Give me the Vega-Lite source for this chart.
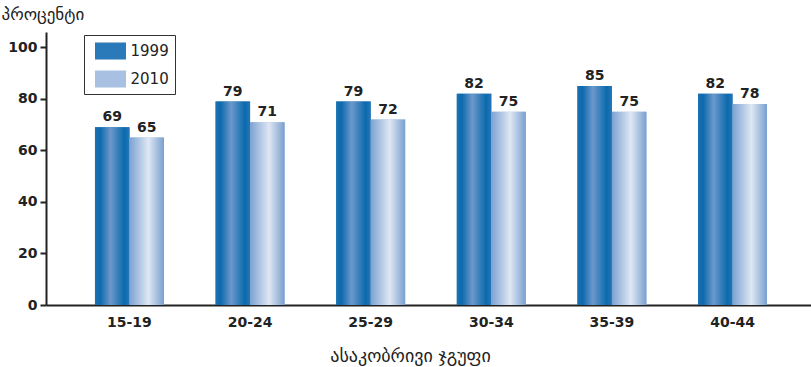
{
  "$schema": "https://vega.github.io/schema/vega-lite/v6.json",
  "width": 765,
  "height": 273,
  "autosize": {"type": "none"},
  "padding": {"left": 46, "top": 32, "right": 0, "bottom": 62},
  "background": "white",
  "config": {
    "view": {"stroke": null},
    "font": "DejaVu Sans"
  },
  "data": {
    "values": [
      {"age": "15-19", "year": "1999", "value": 69},
      {"age": "15-19", "year": "2010", "value": 65},
      {"age": "20-24", "year": "1999", "value": 79},
      {"age": "20-24", "year": "2010", "value": 71},
      {"age": "25-29", "year": "1999", "value": 79},
      {"age": "25-29", "year": "2010", "value": 72},
      {"age": "30-34", "year": "1999", "value": 82},
      {"age": "30-34", "year": "2010", "value": 75},
      {"age": "35-39", "year": "1999", "value": 85},
      {"age": "35-39", "year": "2010", "value": 75},
      {"age": "40-44", "year": "1999", "value": 82},
      {"age": "40-44", "year": "2010", "value": 78}
    ]
  },
  "encoding": {
    "x": {
      "field": "age", "type": "nominal", "sort": null,
      "scale": {"paddingInner": 0.428, "paddingOuter": 0.406, "range": [0, 770]},
      "axis": {
        "title": "ასაკობრივი ჯგუფი",
        "titleFont": "DejaVu Sans", "titleFontSize": 18, "titleFontWeight": "normal",
        "titleColor": "#222", "titlePadding": 18, "titleX": 364,
        "labelAngle": 0, "labelFontSize": 14, "labelFontWeight": "bold",
        "labelColor": "#222", "labelPadding": 10, "labelDx": -3,
        "ticks": false, "domainColor": "#222", "domainWidth": 2, "grid": false
      }
    },
    "xOffset": {"field": "year", "type": "nominal", "scale": {"domain": ["1999", "2010"], "paddingInner": 0}},
    "y": {
      "field": "value", "type": "quantitative",
      "scale": {"domain": [0, 106], "nice": false},
      "axis": {
        "values": [0, 20, 40, 60, 80, 100],
        "title": "პროცენტი",
        "titleAngle": 0, "titleAlign": "left", "titleBaseline": "middle",
        "titleX": -45, "titleY": -18,
        "titleFontSize": 17, "titleFontWeight": "normal", "titleColor": "#222",
        "labelFontSize": 14, "labelFontWeight": "bold", "labelColor": "#222",
        "labelPadding": 3,
        "tickSize": 6, "tickWidth": 2, "tickColor": "#222",
        "domainColor": "#222", "domainWidth": 2, "grid": false
      }
    }
  },
  "layer": [
    {
      "mark": {"type": "bar"},
      "encoding": {
        "color": {
          "field": "year", "type": "nominal",
          "scale": {"domain": ["1999", "2010"], "range": ["#2a79b9", "#a8c0e1"]},
          "legend": {
            "title": null,
            "orient": "none", "legendX": 38, "legendY": 3,
            "strokeColor": "#333", "padding": 6,
            "symbolType": "M-1.55,-0.85H1.55V0.85H-1.55Z", "symbolSize": 400,
            "symbolStrokeWidth": 0, "symbolOpacity": 1, "symbolOffset": 10.5,
            "labelFontSize": 15, "labelColor": "#222", "labelFont": "DejaVu Sans",
            "rowPadding": 9, "labelOffset": 10
          }
        }
      }
    },
    {
      "transform": [{"filter": "datum.year === '1999'"}],
      "mark": {"type": "bar", "color": {"gradient": "linear", "x1": 0, "y1": 0, "x2": 1, "y2": 0,
        "stops": [
          {"offset": 0, "color": "#1a70b2"},
          {"offset": 0.15, "color": "#0d6aad"},
          {"offset": 0.45, "color": "#6c98cb"},
          {"offset": 0.85, "color": "#0a6aad"},
          {"offset": 1, "color": "#2676b7"}
        ]}},
      "encoding": {}
    },
    {
      "transform": [{"filter": "datum.year === '2010'"}],
      "mark": {"type": "bar", "color": {"gradient": "linear", "x1": 0, "y1": 0, "x2": 1, "y2": 0,
        "stops": [
          {"offset": 0, "color": "#7ba2d2"},
          {"offset": 0.55, "color": "#dfe7f3"},
          {"offset": 1, "color": "#789fcf"}
        ]}},
      "encoding": {}
    },
    {
      "mark": {"type": "text", "baseline": "bottom", "dy": -3, "fontSize": 14, "fontWeight": "bold", "color": "#222"},
      "encoding": {"text": {"field": "value", "type": "quantitative"}}
    }
  ]
}
